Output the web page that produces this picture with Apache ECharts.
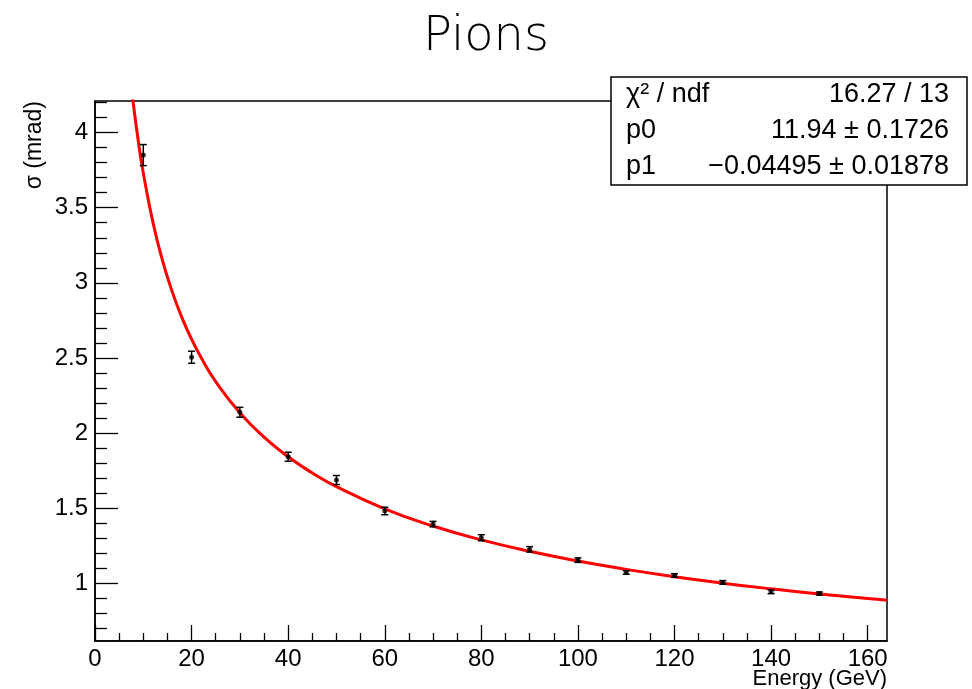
<!DOCTYPE html>
<html>
<head>
<meta charset="utf-8">
<script src="https://cdn.jsdelivr.net/npm/echarts@6/dist/echarts.min.js"></script>
<style>html,body{margin:0;padding:0;background:#fff}#c{width:972px;height:689px}</style>
</head>
<body>
<div id="c"></div>
<script>
// ---- data ----
const energy = [10, 20, 30, 40, 50, 60, 70, 80, 90, 100, 110, 120, 130, 140, 150];
const sigma = [3.85, 2.505, 2.139, 1.843, 1.688, 1.482, 1.395, 1.304, 1.227, 1.155, 1.073, 1.053, 1.007, 0.944, 0.933];
const sigmaErr = [0.07, 0.04, 0.033, 0.03, 0.03, 0.025, 0.018, 0.02, 0.018, 0.015, 0.012, 0.012, 0.012, 0.012, 0.01];
const fitEnergy = [7.5, 8, 9, 10, 12, 14, 16, 18, 20, 22, 25, 30, 35, 40, 45, 50, 60, 70, 80, 90, 100, 110, 120, 130, 140, 150, 160, 164];
const fitSigma = [4.315, 4.177, 3.935, 3.731, 3.402, 3.146, 2.940, 2.769, 2.625, 2.501, 2.343, 2.135, 1.973, 1.843, 1.735, 1.644, 1.4965, 1.382, 1.290, 1.214, 1.149, 1.0935, 1.045, 1.002, 0.964, 0.930, 0.899, 0.888];
const xMajorTicks = [0, 20, 40, 60, 80, 100, 120, 140, 160];
const xMinorTicks = [5, 10, 15, 25, 30, 35, 45, 50, 55, 65, 70, 75, 85, 90, 95, 105, 110, 115, 125, 130, 135, 145, 150, 155];
const yMajorTicks = [1, 1.5, 2, 2.5, 3, 3.5, 4];
const yMinorTicks = [0.7, 0.8, 0.9, 1.1, 1.2, 1.3, 1.4, 1.6, 1.7, 1.8, 1.9, 2.1, 2.2, 2.3, 2.4, 2.6, 2.7, 2.8, 2.9, 3.1, 3.2, 3.3, 3.4, 3.6, 3.7, 3.8, 3.9, 4.1, 4.2];
const statsRows = [["χ² / ndf", "16.27 / 13"], ["p0", "11.94 ± 0.1726"], ["p1", "−0.04495 ± 0.01878"]];
const xRange = [0, 164];
const yRange = [0.617, 4.21];

const FONT = 'Liberation Sans, Arial, Helvetica, sans-serif';
const chart = echarts.init(document.getElementById('c'), null, {renderer: 'canvas'});

const pts = energy.map((e, i) => [e, sigma[i]]);
const errs = energy.map((e, i) => [e, sigma[i] - sigmaErr[i], sigma[i] + sigmaErr[i]]);
const fit = fitEnergy.map((e, i) => [e, fitSigma[i]]);

const baseX = {type: 'value', min: xRange[0], max: xRange[1], splitLine: {show: false}, gridIndex: 0, position: 'bottom', offset: 0};
const baseY = {type: 'value', min: yRange[0], max: yRange[1], splitLine: {show: false}, gridIndex: 0, position: 'left', offset: 0};

const option = {
  animation: false,
  backgroundColor: '#fff',
  title: {
    text: 'Pions', left: 'center', top: 9,
    textStyle: {fontFamily: 'DejaVu Sans', fontWeight: 200, fontSize: 48, color: '#000'}
  },
  grid: {left: 95, top: 101, right: 85, bottom: 48, show: true, borderColor: '#000', borderWidth: 1.5, containLabel: false},
  xAxis: [
    Object.assign({}, baseX, {
      axisLine: {show: true, onZero: false, lineStyle: {color: '#000', width: 1.5}},
      axisTick: {show: true, inside: true, length: 16, customValues: xMajorTicks, lineStyle: {color: '#000', width: 1.3}},
      axisLabel: {show: true, customValues: xMajorTicks, margin: 6, color: '#000', fontSize: 24, fontFamily: FONT}
    }),
    Object.assign({}, baseX, {
      axisLine: {show: false, onZero: false},
      axisTick: {show: true, inside: true, length: 8, customValues: xMinorTicks, lineStyle: {color: '#000', width: 1.3}},
      axisLabel: {show: false}
    })
  ],
  yAxis: [
    Object.assign({}, baseY, {
      axisLine: {show: true, onZero: false, lineStyle: {color: '#000', width: 1.5}},
      axisTick: {show: true, inside: true, length: 23, customValues: yMajorTicks, lineStyle: {color: '#000', width: 1.3}},
      axisLabel: {show: true, customValues: yMajorTicks, margin: 7, color: '#000', fontSize: 24, fontFamily: FONT}
    }),
    Object.assign({}, baseY, {
      axisLine: {show: false, onZero: false},
      axisTick: {show: true, inside: true, length: 12, customValues: yMinorTicks, lineStyle: {color: '#000', width: 1.3}},
      axisLabel: {show: false}
    })
  ],
  series: [
    {
      type: 'line', data: fit, smooth: true, showSymbol: false, clip: true,
      lineStyle: {color: '#ff0000', width: 3}, z: 3, xAxisIndex: 0, yAxisIndex: 0
    },
    {
      type: 'custom', data: errs, xAxisIndex: 0, yAxisIndex: 0, z: 4,
      renderItem: function (params, api) {
        const x = api.value(0);
        const lo = api.coord([x, api.value(1)]);
        const hi = api.coord([x, api.value(2)]);
        const w = 3.5;
        const st = {stroke: '#000', lineWidth: 1.5};
        return {type: 'group', children: [
          {type: 'line', shape: {x1: lo[0], y1: lo[1], x2: hi[0], y2: hi[1]}, style: st},
          {type: 'line', shape: {x1: lo[0] - w, y1: lo[1], x2: lo[0] + w, y2: lo[1]}, style: st},
          {type: 'line', shape: {x1: hi[0] - w, y1: hi[1], x2: hi[0] + w, y2: hi[1]}, style: st}
        ]};
      }
    },
    {
      type: 'scatter', data: pts, symbol: 'circle', symbolSize: 5, xAxisIndex: 0, yAxisIndex: 0, z: 5,
      itemStyle: {color: '#000'}
    }
  ],
  graphic: [
    {type: 'text', x: 35, y: 101, rotation: Math.PI / 2,
      style: {text: 'σ (mrad)', fontSize: 23, fontFamily: FONT, fill: '#000', align: 'right', verticalAlign: 'middle'}},
    {type: 'text', x: 887, y: 679,
      style: {text: 'Energy (GeV)', fontSize: 22, fontFamily: FONT, fill: '#000', align: 'right', verticalAlign: 'middle'}},
    {type: 'rect', z: 100, shape: {x: 611, y: 77, width: 356, height: 108},
      style: {fill: '#fff', stroke: '#000', lineWidth: 1.5}}
  ].concat(statsRows.flatMap((r, i) => [
    {type: 'text', z: 101, x: 626, y: 95 + i * 36,
      style: {text: r[0], fontSize: 27, fontFamily: FONT, fill: '#000', align: 'left', verticalAlign: 'middle'}},
    {type: 'text', z: 101, x: 949, y: 95 + i * 36,
      style: {text: r[1], fontSize: 27, fontFamily: FONT, fill: '#000', align: 'right', verticalAlign: 'middle'}}
  ]))
};
chart.setOption(option);
</script>
</body>
</html>
